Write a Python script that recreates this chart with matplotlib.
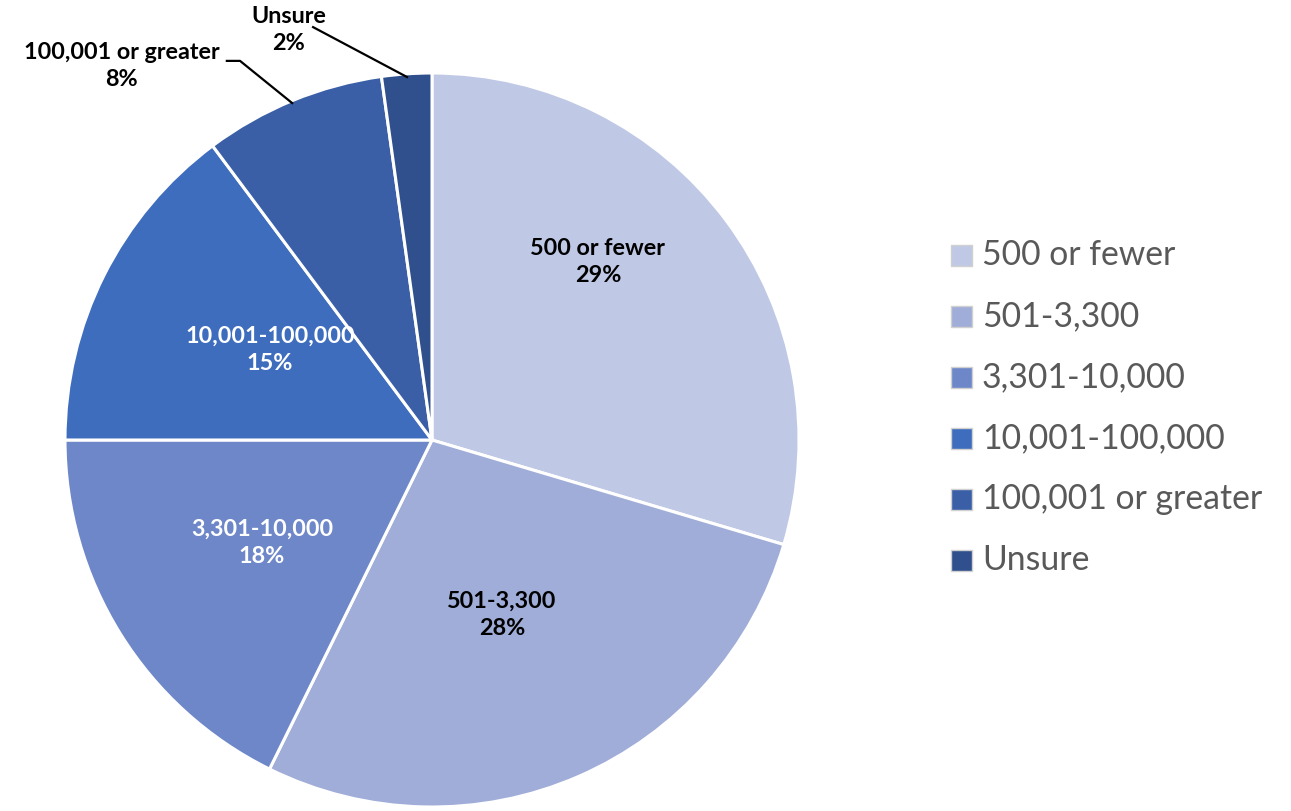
import matplotlib
matplotlib.use("Agg")
import matplotlib.pyplot as plt
from matplotlib.patches import Rectangle

categories = ["500 or fewer", "501-3,300", "3,301-10,000", "10,001-100,000", "100,001 or greater", "Unsure"]
values = [29.6, 27.7, 17.7, 14.8, 8.0, 2.2]
pct_labels = ["29%", "28%", "18%", "15%", "8%", "2%"]
colors = ["#BFC9E5", "#9FADD8", "#6D87C8", "#3F6DBE", "#3A5FA6", "#2F4F8D"]
label_colors = ["black", "black", "white", "white", "black", "black"]
# label positions (data coords, pie radius = 1)
label_pos = [(0.452, 0.485), (0.191, -0.477), (-0.463, -0.281), (-0.441, 0.245), (-0.845, 1.019), (-0.390, 1.117)]

plt.rcParams['font.family'] = ['Lato', 'DejaVu Sans']

W, H = 1291, 811
fig = plt.figure(figsize=(W / 100, H / 100), dpi=100)
cx, cy, r = 432, 440, 367
ax = fig.add_axes([(cx - r) / W, (H - cy - r) / H, 2 * r / W, 2 * r / H])
wedges, _ = ax.pie(values, colors=colors, startangle=90, counterclock=False,
                   radius=1, wedgeprops=dict(edgecolor="white", linewidth=2.2))
ax.set_xlim(-1, 1)
ax.set_ylim(-1, 1)
ax.set_aspect('equal')
ax.axis('off')

for cat, pct, (x, y), c in zip(categories, pct_labels, label_pos, label_colors):
    ax.text(x, y, f"{cat}\n{pct}", ha="center", va="center", fontsize=16.8,
            fontweight="bold", color=c, linespacing=1.35, clip_on=False)

# leader lines
ax.plot([-0.559, -0.523, -0.381], [1.033, 1.033, 0.918], color="black", lw=1.6, clip_on=False)
ax.plot([-0.324, -0.068], [1.125, 0.989], color="black", lw=1.6, clip_on=False)

# legend (drawn manually in figure pixel space)
leg_x0, leg_y0, leg_dy, sq = 951, 255, 61, 21
for i, (cat, col) in enumerate(zip(categories, colors)):
    yc = leg_y0 + i * leg_dy
    fig.patches.append(Rectangle((leg_x0 / W, (H - yc - sq / 2) / H), sq / W, sq / H,
                                 transform=fig.transFigure, facecolor=col,
                                 edgecolor="#D0D0D0", linewidth=1.0))
    fig.text((leg_x0 + sq + 10) / W, (H - yc) / H, cat, ha="left", va="center",
             fontsize=24.3, color="#595959")

fig.savefig("out.png", dpi=100)
